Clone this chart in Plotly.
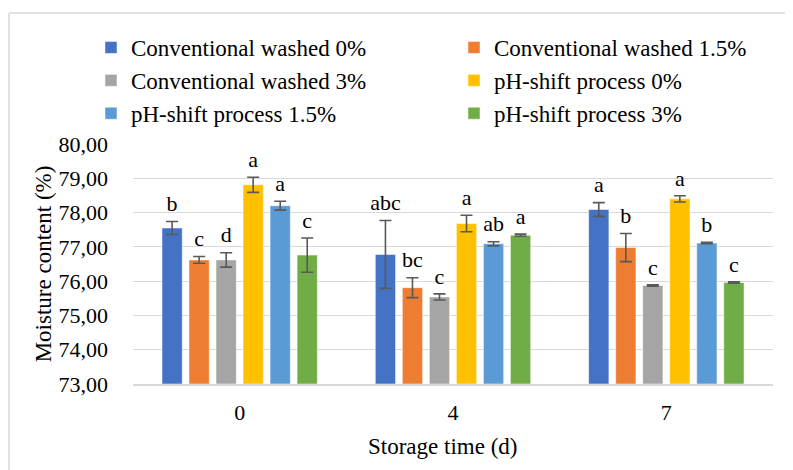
import plotly.graph_objects as go

categories = ["0", "4", "7"]
series_names = [
    "Conventional washed 0%",
    "Conventional washed 1.5%",
    "Conventional washed 3%",
    "pH-shift process 0%",
    "pH-shift process 1.5%",
    "pH-shift process 3%",
]
colors = ["#4472C4", "#ED7D31", "#A5A5A5", "#FFC000", "#5B9BD5", "#70AD47"]

cw0 = [77.55, 76.78, 78.09]
cw15 = [76.62, 75.81, 76.98]
cw3 = [76.62, 75.54, 75.87]
ph0 = [78.81, 77.68, 78.40]
ph15 = [78.20, 77.09, 77.11]
ph3 = [76.76, 77.34, 75.96]

cw0_err = [0.19, 0.99, 0.20]
cw15_err = [0.10, 0.29, 0.41]
cw3_err = [0.21, 0.09, 0.02]
ph0_err = [0.22, 0.24, 0.09]
ph15_err = [0.13, 0.06, 0.02]
ph3_err = [0.50, 0.03, 0.02]

cw0_lbl = ["b", "abc", "a"]
cw15_lbl = ["c", "bc", "b"]
cw3_lbl = ["d", "c", "c"]
ph0_lbl = ["a", "a", "a"]
ph15_lbl = ["a", "ab", "b"]
ph3_lbl = ["c", "a", "c"]

x_title = "Storage time (d)"
y_title = "Moisture content (%)"

values = [cw0, cw15, cw3, ph0, ph15, ph3]
errors = [cw0_err, cw15_err, cw3_err, ph0_err, ph15_err, ph3_err]
labels = [cw0_lbl, cw15_lbl, cw3_lbl, ph0_lbl, ph15_lbl, ph3_lbl]

FONT = "Liberation Serif, Times New Roman, serif"
fig = go.Figure()

for i, name in enumerate(series_names):
    fig.add_trace(go.Bar(
        x=categories, y=[v - 73 for v in values[i]], base=73, name=name,
        marker=dict(color=colors[i], line=dict(color="rgba(255,255,255,0.5)", width=1)),
        error_y=dict(type="data", array=errors[i], color="#595959", thickness=1.6, width=6),
        offsetgroup=str(i),
    ))

for i, name in enumerate(series_names):
    fig.add_trace(go.Scatter(
        x=categories, y=[v + e for v, e in zip(values[i], errors[i])],
        mode="markers+text", text=labels[i], textposition="top center",
        marker=dict(size=6, opacity=0),
        textfont=dict(family=FONT, size=22, color="#000000"),
        showlegend=False, hoverinfo="skip", offsetgroup=str(i),
    ))

W, H = 793, 470
L, R, T, B = 125, 28, 136, 94
PW, PH = W - L - R, H - T - B

fig.update_layout(
    width=W, height=H,
    margin=dict(l=L, r=R, t=T, b=B, autoexpand=False),
    paper_bgcolor="white", plot_bgcolor="white",
    barmode="group", bargap=0.24, bargroupgap=0.25,
    scattermode="group", scattergap=0.24,
    separators=", ",
    font=dict(family=FONT, size=22, color="#000000"),
    showlegend=True,
    hovermode=False,
    legend=dict(
        orientation="h",
        x=(83 - L) / PW, xanchor="left", y=(PH + T - 18) / PH, yanchor="top",
        entrywidth=318, entrywidthmode="pixels",
        font=dict(family=FONT, size=23, color="#000000"),
        traceorder="normal", itemwidth=30, tracegroupgap=0,
    ),
    xaxis=dict(
        automargin=False,
        showgrid=False, showline=True, linecolor="#D9D9D9", linewidth=1.5,
        ticks="", ticklabelstandoff=8, tickfont=dict(family=FONT, size=22),
    ),
    yaxis=dict(
        automargin=False,
        range=[73, 80], dtick=1, tickformat=".2f",
        showgrid=True, gridcolor="#D9D9D9", gridwidth=1,
        zeroline=False, showline=False, ticks="",
        ticklabelstandoff=24,
        tickfont=dict(family=FONT, size=22),
        title=dict(text=y_title, font=dict(family=FONT, size=23), standoff=0),
    ),
    annotations=[
        dict(text=x_title, xref="paper", yref="paper", x=0.5, y=-62 / PH,
             xanchor="center", yanchor="middle", xshift=-11, showarrow=False,
             font=dict(family=FONT, size=23, color="#000000")),
    ],
    shapes=[
        dict(type="line", xref="paper", yref="paper",
             x0=(1 - L) / PW, x1=(1 - L) / PW, y0=(PH + T - 5) / PH, y1=-B / PH,
             line=dict(color="#D9D9D9", width=1.5)),
        dict(type="line", xref="paper", yref="paper",
             x0=(1 - L) / PW, x1=(W - L) / PW, y0=(PH + T - 5) / PH, y1=(PH + T - 5) / PH,
             line=dict(color="#D9D9D9", width=1.5)),
    ],
)

fig.write_html("out.html")
